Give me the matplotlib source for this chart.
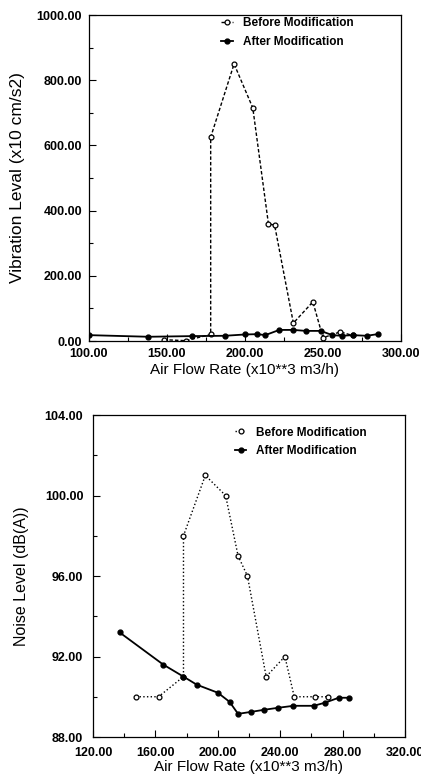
import numpy as np
import matplotlib.pyplot as plt
from matplotlib.ticker import MultipleLocator, FormatStrFormatter

plt.rcParams['font.family'] = ['Liberation Sans', 'DejaVu Sans']

# --- Вибрация (верхний график) ---
vib_before_x = [148, 162, 178, 178, 193, 205, 215, 219, 231, 243.5, 250, 261, 269]
vib_before_y = [4, 1, 20, 625, 850, 715, 360, 355, 55, 120, 10, 28, 17]

vib_after_x = [100, 138, 166, 187, 200, 208, 213, 222, 231, 239, 248.5, 256, 262, 269, 278, 285]
vib_after_y = [18, 13, 15, 16, 20, 21, 18, 34, 34, 31, 31, 18, 16, 18, 16, 21]

# --- Шум (нижний график) ---
noise_before_x = [147.5, 162, 178, 178, 192, 205, 213, 219, 231, 243, 249, 262, 270.5]
noise_before_y = [90.0, 90.0, 91.0, 98.0, 101.0, 100.0, 97.0, 96.0, 91.0, 92.0, 90.0, 90.0, 90.0]

noise_after_x = [137, 165, 178, 186.5, 200, 207.5, 213, 221.5, 229.5, 238.5, 248.5, 261.5, 268.5, 277.5, 284]
noise_after_y = [93.2, 91.6, 91.0, 90.6, 90.2, 89.75, 89.15, 89.25, 89.35, 89.45, 89.55, 89.55, 89.7, 89.95, 89.95]

fig = plt.figure(figsize=(4.21, 7.77), dpi=100)
W, H = 421, 777

def make_axes(l, r, t, b):
    return fig.add_axes([l / W, 1 - b / H, (r - l) / W, (b - t) / H])

ax1 = make_axes(89, 401, 15, 341)
ax2 = make_axes(93, 405, 415, 737)

for ax in (ax1, ax2):
    ax.tick_params(which='both', direction='in', top=False, right=False)
    ax.tick_params(which='major', length=5, width=0.8)
    ax.tick_params(which='minor', length=3, width=0.8)
    for s in ax.spines.values():
        s.set_linewidth(0.9)
    ax.xaxis.set_major_formatter(FormatStrFormatter('%.2f'))
    ax.yaxis.set_major_formatter(FormatStrFormatter('%.2f'))

ax1.tick_params(axis='y', which='major', pad=5)
ax1.tick_params(axis='x', which='major', pad=5)
ax2.tick_params(axis='y', which='major', pad=7)
ax2.tick_params(axis='x', which='major', pad=7)

# верхний
ax1.plot(vib_before_x, vib_before_y, color='black', linestyle=(0, (2.5, 1.5)), lw=1.0,
         marker='o', markersize=3.5, markerfacecolor='white', markeredgewidth=0.9,
         label='Before Modification')
ax1.plot(vib_after_x, vib_after_y, color='black', linestyle='-', lw=1.3,
         marker='o', markersize=3.5, markerfacecolor='black',
         label='After Modification')
ax1.set_xlim(100, 300)
ax1.set_ylim(0, 1000)
ax1.xaxis.set_major_locator(MultipleLocator(50))
ax1.xaxis.set_minor_locator(MultipleLocator(25))
ax1.yaxis.set_major_locator(MultipleLocator(200))
ax1.yaxis.set_minor_locator(MultipleLocator(100))
ax1.set_xlabel('Air Flow Rate (x10**3 m3/h)', fontsize=11, labelpad=2)
ax1.set_ylabel('Vibration Leval (x10 cm/s2)', fontsize=12.5, labelpad=8)

# нижний
ax2.plot(noise_before_x, noise_before_y, color='black', linestyle=':', lw=1.0,
         marker='o', markersize=3.5, markerfacecolor='white', markeredgewidth=0.9,
         label='Before Modification')
ax2.plot(noise_after_x, noise_after_y, color='black', linestyle='-', lw=1.3,
         marker='o', markersize=3.5, markerfacecolor='black',
         label='After Modification')
ax2.set_xlim(120, 320)
ax2.set_ylim(88, 104)
ax2.xaxis.set_major_locator(MultipleLocator(40))
ax2.xaxis.set_minor_locator(MultipleLocator(20))
ax2.yaxis.set_major_locator(MultipleLocator(4))
ax2.yaxis.set_minor_locator(MultipleLocator(2))
ax2.set_xlabel('Air Flow Rate (x10**3 m3/h)', fontsize=11, labelpad=1)
ax2.set_ylabel('Noise Level (dB(A))', fontsize=11.5, labelpad=11)

for ax in (ax1, ax2):
    for lab in ax.get_xticklabels() + ax.get_yticklabels():
        lab.set_fontsize(9)
        lab.set_fontweight('bold')

ax1.legend(loc='upper left', bbox_to_anchor=(0.39, 1.025), frameon=False,
           handlelength=1.0, handletextpad=0.8, labelspacing=0.55,
           prop=dict(size=8.5, weight='bold'))
ax2.legend(loc='upper left', bbox_to_anchor=(0.42, 0.997), frameon=False,
           handlelength=1.0, handletextpad=0.8, labelspacing=0.55,
           prop=dict(size=8.5, weight='bold'))

plt.savefig('out.png', dpi=100)
